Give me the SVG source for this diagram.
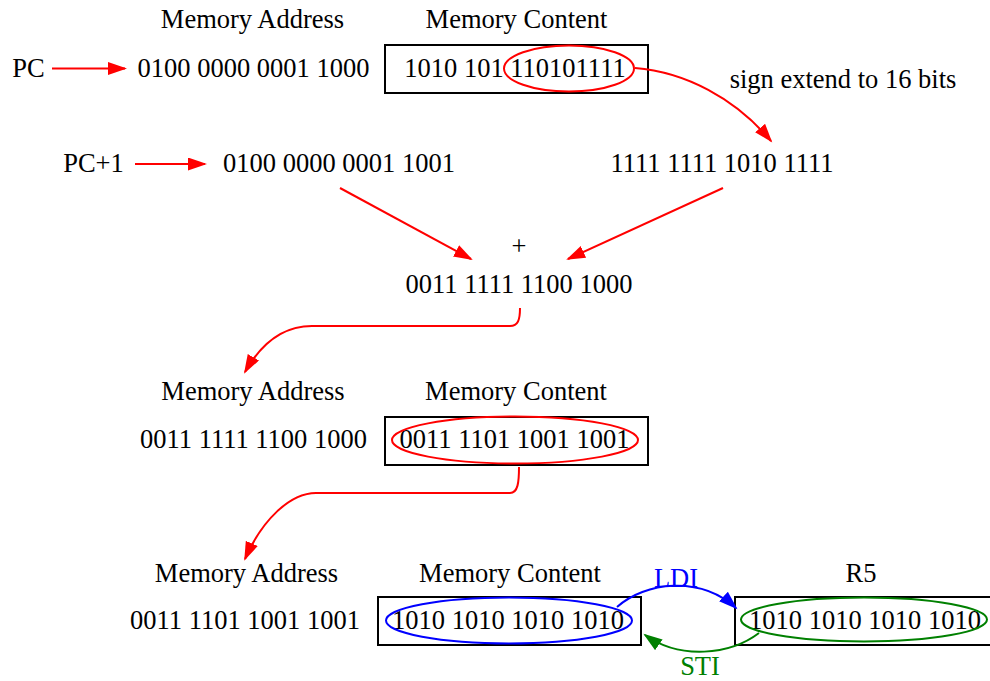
<svg xmlns="http://www.w3.org/2000/svg" width="990" height="681" viewBox="0 0 990 681">
  <style>
    text { font-family: "Liberation Serif", "Times New Roman", serif; font-size: 26.5px; fill: #000; text-anchor: middle; }
    .box { fill: none; stroke: #000; stroke-width: 2; }
    .red { fill: none; stroke: #ff0000; stroke-width: 2; }
    .blue { fill: none; stroke: #0000ff; stroke-width: 2; }
    .green { fill: none; stroke: #008000; stroke-width: 2; }
    text.lblue { fill: #0000ff; }
    text.lgreen { fill: #008000; }
  </style>
  <defs>
    <marker id="arRed" markerUnits="userSpaceOnUse" markerWidth="20" markerHeight="14" refX="17" refY="6.5" orient="auto">
      <path d="M0,0 L19,6.5 L0,13 z" fill="#ff0000"/>
    </marker>
    <marker id="arBlue" markerUnits="userSpaceOnUse" markerWidth="20" markerHeight="14" refX="17" refY="6.5" orient="auto">
      <path d="M0,0 L19,6.5 L0,13 z" fill="#0000ff"/>
    </marker>
    <marker id="arGreen" markerUnits="userSpaceOnUse" markerWidth="20" markerHeight="14" refX="17" refY="6.5" orient="auto">
      <path d="M0,0 L19,6.5 L0,13 z" fill="#008000"/>
    </marker>
  </defs>

  <!-- first memory access: fetch the instruction at PC -->
  <g id="hdr1">
    <text x="252.5" y="28">Memory Address</text>
    <text x="516.5" y="28">Memory Content</text>
  </g>
  <g id="pc">
    <text x="28.5" y="77">PC</text>
  </g>
  <g id="addr1">
    <text x="253.5" y="77">0100 0000 0001 1000</text>
  </g>
  <g id="content1">
    <rect class="box" x="385" y="45" width="263" height="48"/>
    <text x="515" y="77">1010 101 110101111</text>
    <ellipse class="red" cx="569" cy="68.5" rx="65" ry="23"/>
  </g>
  <g id="signext-label">
    <text x="843" y="88">sign extend to 16 bits</text>
  </g>

  <!-- PC+1 plus sign-extended offset -->
  <g id="pc1">
    <text x="93.5" y="172">PC+1</text>
  </g>
  <g id="addr-next">
    <text x="339" y="172">0100 0000 0001 1001</text>
  </g>
  <g id="offset">
    <text x="722" y="172">1111 1111 1010 1111</text>
  </g>
  <g id="sum">
    <text x="519" y="255">+</text>
    <text x="519" y="293">0011 1111 1100 1000</text>
  </g>

  <!-- second memory access: read the pointer -->
  <g id="hdr2">
    <text x="253" y="400">Memory Address</text>
    <text x="516" y="400">Memory Content</text>
  </g>
  <g id="addr2">
    <text x="253.5" y="448">0011 1111 1100 1000</text>
  </g>
  <g id="content2">
    <rect class="box" x="385" y="417" width="263" height="48"/>
    <text x="514.5" y="448">0011 1101 1001 1001</text>
    <ellipse class="red" cx="515" cy="440" rx="123" ry="23.5"/>
  </g>

  <!-- third memory access: the data and register R5 -->
  <g id="hdr3">
    <text x="246.5" y="582">Memory Address</text>
    <text x="510" y="582">Memory Content</text>
  </g>
  <g id="addr3">
    <text x="245" y="629">0011 1101 1001 1001</text>
  </g>
  <g id="content3">
    <rect class="box" x="378" y="597" width="263" height="48"/>
    <text x="508" y="629">1010 1010 1010 1010</text>
    <ellipse class="blue" cx="509" cy="620.5" rx="123" ry="23"/>
  </g>
  <g id="r5">
    <text x="861" y="582">R5</text>
    <rect class="box" x="735" y="597" width="262" height="48"/>
    <text x="865" y="629">1010 1010 1010 1010</text>
    <ellipse class="green" cx="864" cy="619.5" rx="123" ry="22"/>
  </g>
  <g id="op-labels">
    <text class="lblue" x="676" y="587">LDI</text>
    <text class="lgreen" x="700" y="675">STI</text>
  </g>

  <!-- connectors -->
  <g id="connectors">
    <path class="red" d="M52,68.5 L125,68.5" marker-end="url(#arRed)"/>
    <path class="red" d="M135,164 L205,164" marker-end="url(#arRed)"/>
    <path class="red" d="M635,68 C685,72 735,98 771,141" marker-end="url(#arRed)"/>
    <path class="red" d="M340,188 L471,259" marker-end="url(#arRed)"/>
    <path class="red" d="M723,188 L568,259" marker-end="url(#arRed)"/>
    <path class="red" d="M520,308 C520,320 518,326 510,326 L312,326 C285,326 262,342 245,372" marker-end="url(#arRed)"/>
    <path class="red" d="M519,467 C519,482 518,493 510,493 L316,493 C290,493 262,520 245,559" marker-end="url(#arRed)"/>
    <path class="blue" d="M617,607 C645,582 700,575 736,608" marker-end="url(#arBlue)"/>
    <path class="green" d="M759,633 C730,655 680,660 645,635" marker-end="url(#arGreen)"/>
  </g>
</svg>
